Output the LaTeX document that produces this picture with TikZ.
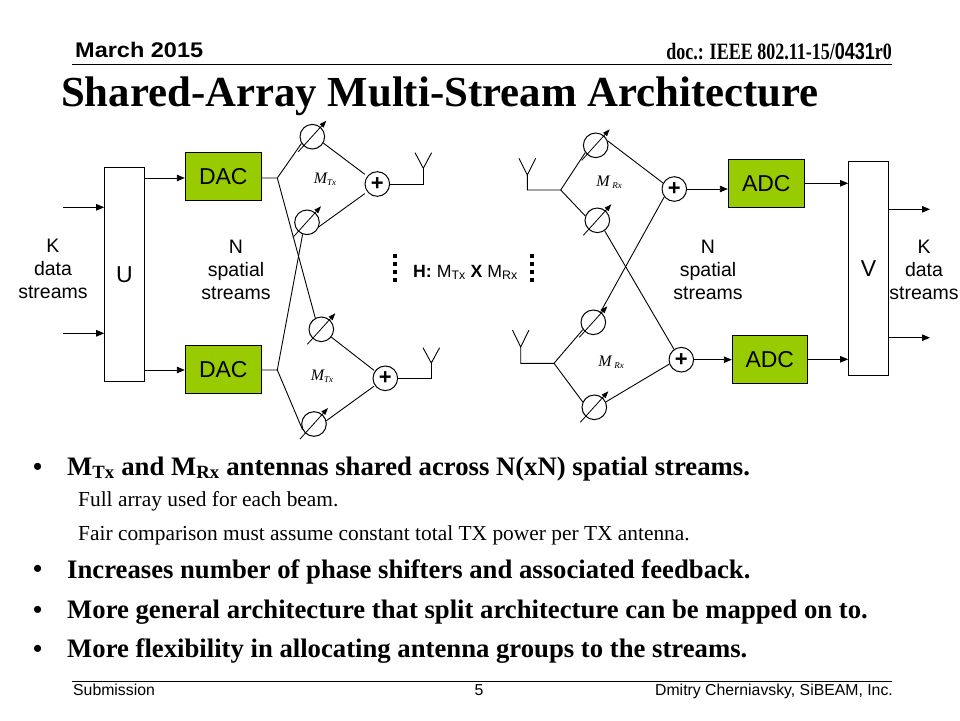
\documentclass[tikz,border=0pt]{standalone}
\usepackage{fontspec}
\setmainfont{Liberation Serif}
\setsansfont{Liberation Sans}
\usetikzlibrary{arrows.meta}
\definecolor{boxgreen}{RGB}{153,204,0}
\tikzset{
  lbox/.style={draw=black,line width=1pt,fill=white,minimum width=39.6pt,minimum height=214pt,inner sep=0pt,font=\sffamily\fontsize{23}{26}\selectfont},
  gbox/.style={draw=black,line width=1pt,fill=boxgreen,minimum width=76pt,minimum height=48pt,inner sep=0pt,font=\sffamily\fontsize{23}{26}\selectfont},
  shifter/.style={circle,draw=black,line width=1pt,minimum size=24.6pt,inner sep=0pt},
  summer/.style={circle,draw=black,line width=1pt,minimum size=24.6pt,inner sep=0pt,font=\sffamily\bfseries\fontsize{22}{22}\selectfont},
  wire/.style={line width=0.9pt},
  flow/.style={wire,-{Triangle[length=8pt,width=6.5pt]}},
  dial/.style={line width=0.8pt,-{Triangle[length=7pt,width=5pt]}},
  lbl/.style={align=center,inner sep=0pt,font=\sffamily\fontsize{19.5}{23}\selectfont},
  mlbl/.style={inner sep=0pt,font=\rmfamily\itshape\fontsize{16}{16}\selectfont},
  head/.style={anchor=base west,inner sep=0pt},
  bul/.style={anchor=base west,inner sep=0pt,font=\rmfamily\bfseries\fontsize{26.7}{28}\selectfont},
  dotb/.style={anchor=base west,inner sep=0pt,font=\rmfamily\bfseries\fontsize{26}{28}\selectfont},
  sub/.style={anchor=base west,inner sep=0pt,font=\rmfamily\fontsize{21.4}{24}\selectfont},
  foot/.style={inner sep=0pt,font=\sffamily\fontsize{15.8}{18}\selectfont},
  dotm/.style={draw=none,fill=black,minimum size=4.4pt,inner sep=0pt}
}
\newcommand{\phasedial}[3]{\node[shifter] (#1) at (#2,#3) {};
  \coordinate (#1a) at (#2-14,#3+15); \coordinate (#1b) at (#2+14,#3-16);
  \draw[dial] (#1a) -- (#1b);}
\newcommand{\aerial}[4]{%
  \coordinate (#1s) at (#2,#3); \coordinate (#1l) at (#2-8.3,#4); \coordinate (#1r) at (#2+8.3,#4);
  \draw[wire] (#1l) -- (#1s) -- (#1r);}
\begin{document}
\begin{tikzpicture}[x=1pt,y=-1pt]
\useasboundingbox (0,0) rectangle (960,720);
\fill[white] (0,0) rectangle (960,720);

% header
\node[head,font=\sffamily\bfseries\fontsize{23.5}{24}\selectfont] (date) at (75,57.5) {\scalebox{1}[0.9]{March 2015}};
\node[anchor=base east,inner sep=0pt,font=\rmfamily\bfseries\fontsize{18}{20}\selectfont] (doc) at (892,59.5) {\scalebox{1}[1.3]{doc.: IEEE 802.11-15/{\sffamily 0431}r0}};
\coordinate (hl) at (72,64); \coordinate (hr) at (892,64);
\draw[line width=0.8pt] (hl) -- (hr);
\node[head,font=\rmfamily\bfseries\fontsize{42.8}{44}\selectfont] (title) at (61,106) {Shared-Array Multi-Stream Architecture};

% boxes
\node[lbox] (U) at (124.5,274.3) {U};
\node[lbox] (V) at (868.5,268.3) {V};
\node[gbox] (dac1) at (223.3,176.3) {DAC};
\node[gbox] (dac2) at (223.3,369.3) {DAC};
\node[gbox] (adc1) at (766.3,183.3) {ADC};
\node[gbox,minimum width=75pt] (adc2) at (769.8,359.3) {ADC};

% TX shifters and summers
\phasedial{p1}{312.3}{136.7}
\phasedial{p2}{307}{222.3}
\phasedial{p3}{321.3}{329.3}
\phasedial{p4}{314}{424}
\node[summer] (s1) at (377.3,184) {+};
\node[summer] (s2) at (385.3,378.3) {+};
% RX shifters and summers
\phasedial{q1}{595.7}{145.3}
\phasedial{q2}{597.3}{220.3}
\phasedial{q3}{593.3}{322.3}
\phasedial{q4}{594.3}{407.3}
\node[summer] (t1) at (674.3,189) {+};
\node[summer] (t2) at (681.3,359.7) {+};

% inputs and outputs
\coordinate (in1) at (63,207.3); \coordinate (in2) at (63,333.3);
\draw[flow] (in1) -- (in1 -| U.west);
\draw[flow] (in2) -- (in2 -| U.west);
\coordinate (ud1) at (200,178); \coordinate (ud2) at (200,370);
\draw[flow] (ud1 -| U.east) -- (ud1 -| dac1.west);
\draw[flow] (ud2 -| U.east) -- (ud2 -| dac2.west);
\coordinate (out1) at (930,209.3); \coordinate (out2) at (930,337.7);
\draw[flow] (V.east |- out1) -- (out1);
\draw[flow] (V.east |- out2) -- (out2);
\draw[flow] (adc1.east) -- (V.west |- adc1.east);
\draw[flow] (adc2.east) -- (V.west |- adc2.east);
\draw[flow] (t1.east) -- (adc1.west |- t1.east);
\draw[flow] (t2.east) -- (adc2.west |- t2.east);

% TX wiring
\coordinate (j1) at (277.3,178); \coordinate (j2) at (277.3,370);
\draw[wire] (dac1.east |- j1) -- (j1) -- (p1.212);
\draw[wire] (j1) -- (p3.118);
\draw[wire] (dac2.east |- j2) -- (j2) -- (p2.250);
\draw[wire] (j2) -- (p4.205);
\draw[wire,shorten >=3pt] (p1.-30) -- (s1.142);
\draw[wire,shorten >=3pt] (p2.-20) -- (s1.218);
\draw[wire,shorten >=1pt] (p3.-38) -- (s2.145);
\draw[wire,shorten >=1pt] (p4.15) -- (s2.215);
\aerial{a1}{423.3}{168.3}{152.7}
\aerial{a2}{431.3}{363}{347.7}
\draw[wire] (s1.east) -- (s1.east -| a1s) -- (a1s);
\draw[wire] (s2.east) -- (s2.east -| a2s) -- (a2s);

% RX wiring
\coordinate (k1) at (560.7,190); \coordinate (k2) at (554,363.3);
\aerial{b1}{527.3}{175}{158.3}
\aerial{b2}{520.7}{347}{330}
\draw[wire] (b1s) -- (b1s |- k1) -- (k1) -- (q1.215);
\draw[wire] (k1) -- (q2.160);
\draw[wire] (b2s) -- (b2s |- k2) -- (k2) -- (q3.215);
\draw[wire] (k2) -- (q4.155);
\draw[wire] (q1.20) -- (t1.152);
\draw[wire] (q2.-55) -- (t2.125);
\draw[wire] (q3.55) -- (t1.218);
\draw[wire] (q4.25) -- (t2.200);

% labels
\node[mlbl] (m1) at (325,179.5) {M\raisebox{-2pt}{\fontsize{9}{9}\selectfont Tx}};
\node[mlbl] (m2) at (322,376.5) {M\raisebox{-2pt}{\fontsize{9}{9}\selectfont Tx}};
\node[mlbl] (m3) at (609,182) {M\,\raisebox{-2pt}{\fontsize{9}{9}\selectfont Rx}};
\node[mlbl] (m4) at (611,362) {M\,\raisebox{-2pt}{\fontsize{9}{9}\selectfont Rx}};
\node[lbl] (lk1) at (53,269) {K\\data\\streams};
\node[lbl] (ln1) at (236,269.5) {N\\spatial\\streams};
\node[lbl] (ln2) at (708,269.5) {N\\spatial\\streams};
\node[lbl] (lk2) at (924,269.5) {K\\data\\streams};
\node[anchor=base west,inner sep=0pt,font=\sffamily\fontsize{17.7}{18}\selectfont] (H) at (413,277) {\textbf{H:} M\textsubscript{Tx} \textbf{X} M\textsubscript{Rx}};
\foreach \n/\y in {1/256,2/264,3/272,4/280}{
  \node[dotm] (da\n) at (395,\y) {};
  \node[dotm] (db\n) at (532,\y) {};
}

% body text
\node[dotb] (d1) at (33,475) {•};
\node[bul] (t1x) at (67,475) {M\textsubscript{Tx} and M\textsubscript{Rx} antennas shared across N(xN) spatial streams.};
\node[sub] (t2x) at (78,506.5) {Full array used for each beam.};
\node[sub] (t3x) at (78,540) {Fair comparison must assume constant total TX power per TX antenna.};
\node[dotb] (d2) at (33,577) {•};
\node[bul] (t4x) at (67,578) {Increases number of phase shifters and associated feedback.};
\node[dotb] (d3) at (33,618) {•};
\node[bul] (t5x) at (67,618.5) {More general architecture that split architecture can be mapped on to.};
\node[dotb] (d4) at (33,657) {•};
\node[bul] (t6x) at (67,657.5) {More flexibility in allocating antenna groups to the streams.};

% footer
\coordinate (fl) at (72,681); \coordinate (fr) at (892,681);
\draw[line width=0.8pt] (fl) -- (fr);
\node[foot,anchor=base west] (f1) at (73,695) {Submission};
\node[foot,anchor=base] (f2) at (479,695) {5};
\node[foot,anchor=base east] (f3) at (893,695) {Dmitry Cherniavsky, SiBEAM, Inc.};
\end{tikzpicture}
\end{document}
